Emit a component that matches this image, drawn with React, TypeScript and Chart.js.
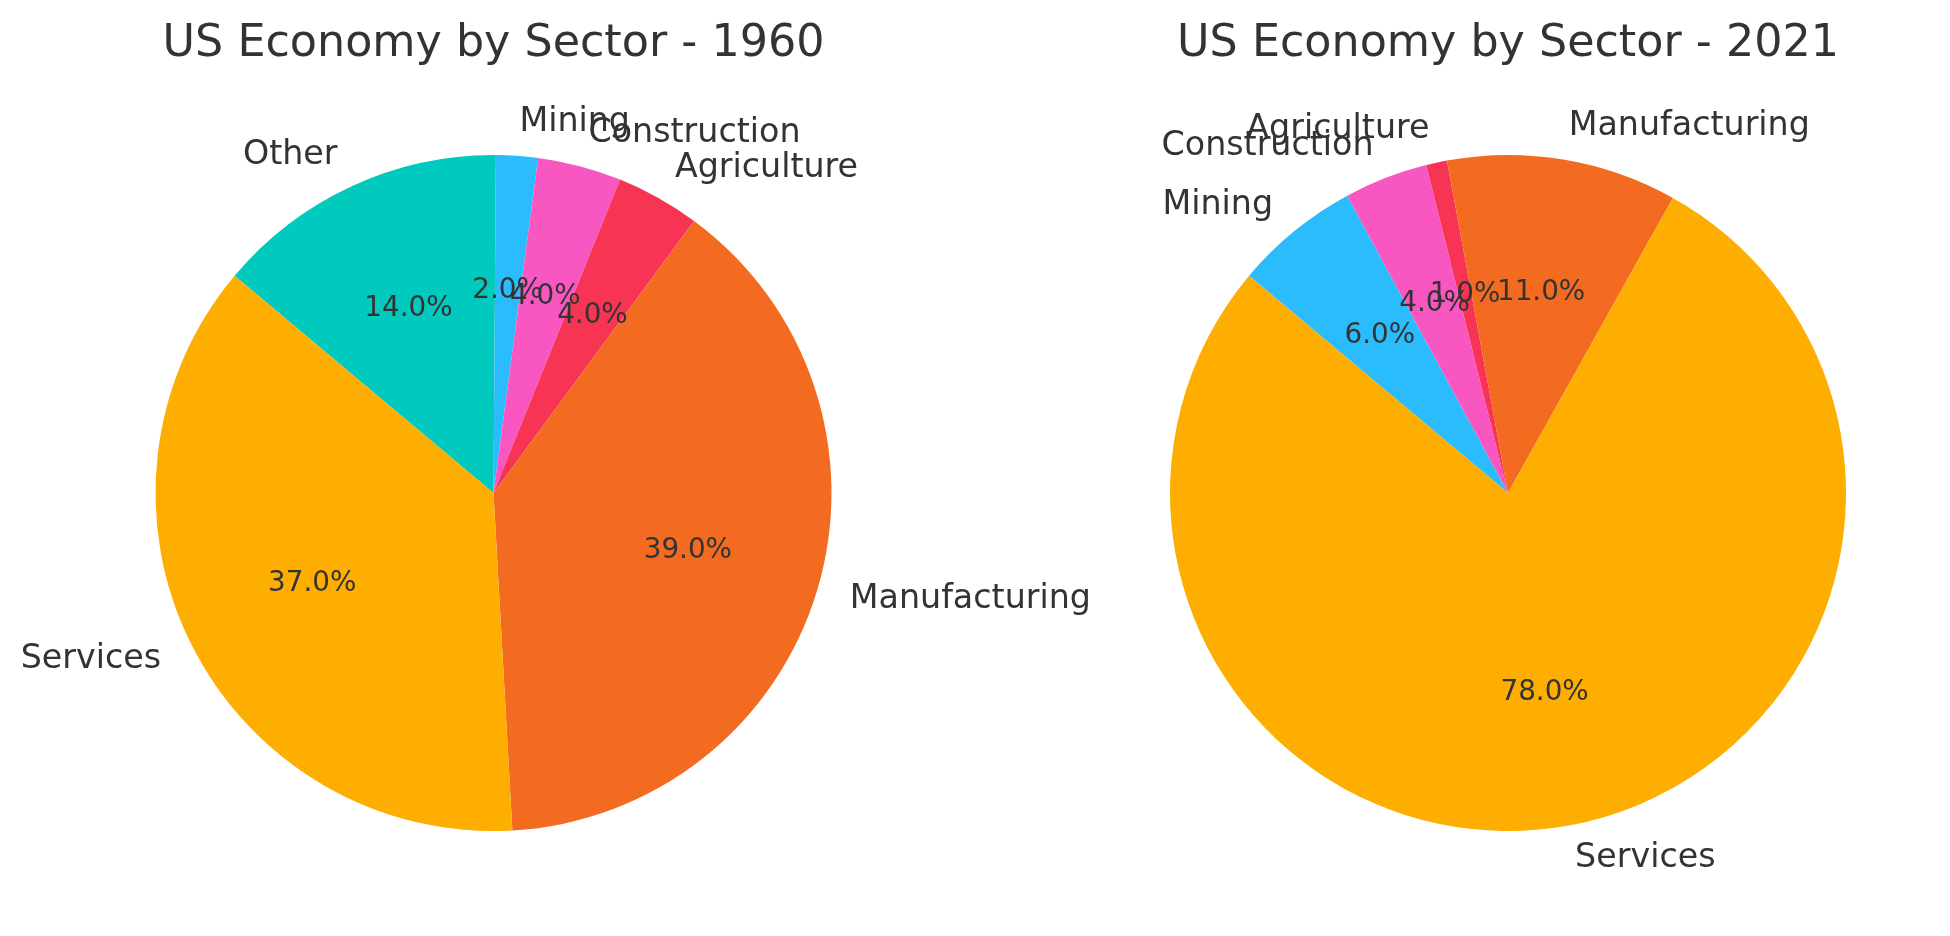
import React, { useEffect, useRef } from 'react';
import { Chart, registerables } from 'chart.js';

Chart.register(...registerables);

// Sector shares (percent of GDP), in the order the wedges are laid out
const sectors = ['Services', 'Manufacturing', 'Agriculture', 'Construction', 'Mining', 'Other'];
const shares1960 = [37, 39, 4, 4, 2, 14];
const shares2021 = [78, 11, 1, 4, 6, 0];
const sectorColors = ['#FDAE00', '#F26B21', '#F73454', '#F857C1', '#2ABCFC', '#00C9BE'];
const chartTitles = ['US Economy by Sector - 1960', 'US Economy by Sector - 2021'];

const FONT = '"DejaVu Sans", Verdana, sans-serif';
const TEXT_COLOR = '#333333';
const LABEL_SIZE = 33.3;
const PCT_SIZE = 27.8;
const TITLE_SIZE = 44.4;

const WIDTH = 1950;
const HEIGHT = 936;

// Draws the sector names outside each wedge, the percentages inside, and the title.
const pieText = {
  id: 'pieText',
  afterDatasetsDraw(chart: any, _args: any, opts: any) {
    const ctx: CanvasRenderingContext2D = chart.ctx;
    const meta = chart.getDatasetMeta(0);
    const labels = chart.data.labels as string[];
    const data = chart.data.datasets[0].data as number[];
    const total = data.reduce((a, b) => a + b, 0);
    ctx.save();
    ctx.fillStyle = TEXT_COLOR;
    ctx.textBaseline = 'alphabetic';
    let cx = 0;
    meta.data.forEach((arc: any, i: number) => {
      const { x, y, startAngle, endAngle, outerRadius } = arc.getProps(
        ['x', 'y', 'startAngle', 'endAngle', 'outerRadius'],
        true
      );
      cx = x;
      const mid = (startAngle + endAngle) / 2;
      const c = Math.cos(mid);
      const s = Math.sin(mid);
      ctx.font = `${LABEL_SIZE}px ${FONT}`;
      ctx.textAlign = c > 0 ? 'left' : 'right';
      ctx.fillText(labels[i], x + outerRadius * 1.1 * c, y + outerRadius * 1.1 * s + 0.262 * LABEL_SIZE);
      ctx.font = `${PCT_SIZE}px ${FONT}`;
      ctx.textAlign = 'center';
      ctx.fillText(
        `${((data[i] / total) * 100).toFixed(1)}%`,
        x + outerRadius * 0.6 * c,
        y + outerRadius * 0.6 * s + 0.262 * PCT_SIZE
      );
    });
    ctx.font = `${TITLE_SIZE}px ${FONT}`;
    ctx.textAlign = 'center';
    ctx.fillText(opts.title, cx, 56);
    ctx.restore();
  },
};

type PieProps = {
  title: string;
  values: number[];
  padding: { left: number; right: number; top: number; bottom: number };
};

function SectorPie({ title, values, padding }: PieProps) {
  const ref = useRef<HTMLCanvasElement | null>(null);

  useEffect(() => {
    if (!ref.current) return;
    // Chart.js lays wedges clockwise, so feed them in reverse to get a counter-clockwise layout
    const idx = sectors.map((_, i) => i).filter((i) => values[i] > 0).reverse();
    const chart = new Chart(ref.current, {
      type: 'pie',
      data: {
        labels: idx.map((i) => sectors[i]),
        datasets: [
          {
            data: idx.map((i) => values[i]),
            backgroundColor: idx.map((i) => sectorColors[i]),
            borderWidth: 0,
            hoverOffset: 0,
          },
        ],
      },
      options: {
        responsive: false,
        animation: false,
        events: [],
        radius: 338,
        rotation: -50,
        layout: { padding },
        plugins: {
          legend: { display: false },
          tooltip: { enabled: false },
          pieText: { title },
        } as any,
      } as any,
      plugins: [pieText],
    });
    return () => chart.destroy();
  }, [title, values, padding]);

  return (
    <canvas
      ref={ref}
      width={WIDTH}
      height={HEIGHT}
      style={{ position: 'absolute', left: 0, top: 0, width: WIDTH, height: HEIGHT }}
    />
  );
}

// Each pie gets a full-size transparent canvas; padding places its centre
const leftPad = { left: 155.5, right: WIDTH - 493.5 - 338, top: 155, bottom: HEIGHT - 493 - 338 };
const rightPad = { left: 1508 - 338, right: WIDTH - 1508 - 338, top: 155, bottom: HEIGHT - 493 - 338 };

export default function App() {
  return (
    <div
      style={{
        position: 'fixed',
        left: 0,
        top: 0,
        width: WIDTH,
        height: HEIGHT,
        background: '#ffffff',
        overflow: 'hidden',
      }}
    >
      <SectorPie title={chartTitles[0]} values={shares1960} padding={leftPad} />
      <SectorPie title={chartTitles[1]} values={shares2021} padding={rightPad} />
    </div>
  );
}
